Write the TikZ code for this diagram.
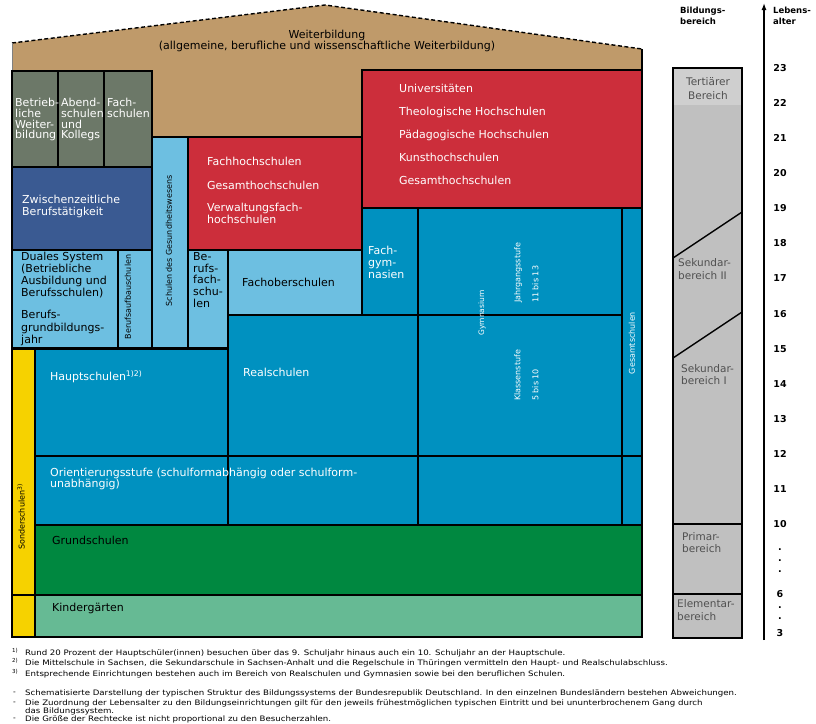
\documentclass[tikz,border=0pt]{standalone}
\usepackage{fontspec}
\setmainfont{DejaVu Sans}
\usetikzlibrary{arrows.meta}

\definecolor{dachbraun}{HTML}{BF9A6A}
\definecolor{salbei}{HTML}{6C7868}
\definecolor{zwblau}{HTML}{3A5A92}
\definecolor{hellblau}{HTML}{6DBFE1}
\definecolor{hsrot}{HTML}{CC2E3B}
\definecolor{mittelblau}{HTML}{0091C0}
\definecolor{sondergelb}{HTML}{F6D200}
\definecolor{grundgruen}{HTML}{008840}
\definecolor{kigagruen}{HTML}{66BA94}
\definecolor{balkengrau}{HTML}{C0C0C0}
\definecolor{balkenhell}{HTML}{CFCFCF}
\definecolor{balkentext}{HTML}{505050}
\newcommand{\fnbreit}[1]{\scalebox{1.15}[1]{#1}}

\begin{document}
\begin{tikzpicture}[x=1pt, y=-1pt, font=\fontsize{11}{11.5}\selectfont]
\tikzstyle{cell}=[draw, line width=1.4pt, anchor=north west, inner sep=0pt, outer sep=0pt]
\tikzstyle{lbl}=[anchor=north west, inner sep=0pt, align=left]
\tikzstyle{wlbl}=[lbl, text=white]
\tikzstyle{vlbl}=[inner sep=0pt, rotate=90, font=\fontsize{8}{9}\selectfont]
\tikzstyle{age}=[inner sep=0pt, font=\bfseries\fontsize{9.5}{10}\selectfont]
\tikzstyle{area}=[lbl, text=balkentext, font=\fontsize{10.5}{12}\selectfont]
\tikzstyle{fn}=[anchor=west, inner sep=0pt, align=left, font=\fontsize{7.5}{8}\selectfont]
\tikzstyle{fnmark}=[fn, font=\fontsize{5.5}{6}\selectfont]
\useasboundingbox (0,0) rectangle (816,723);

% Dach: Weiterbildung
\fill[dachbraun] (12,43) -- (325,5) -- (642,49) -- (642,360) -- (12,360) -- cycle;
\draw[line width=1.4pt, dash pattern=on 4pt off 2.5pt] (12,43) -- (325,5) -- (642,49);
\draw[line width=1.4pt] (642,49) -- (642,71);
\draw[line width=0.6pt, gray] (12,43) -- (12,71);
\node[inner sep=0pt, align=center] (wb) at (327,41) {Weiterbildung\\(allgemeine, berufliche und wissenschaftliche Weiterbildung)};

% Tertiaerbereich und Sekundarbereich II
\node[cell, fill=salbei, minimum width=46pt, minimum height=96pt] (bw) at (12,71) {};
\node[cell, fill=salbei, minimum width=46pt, minimum height=96pt] (abend) at (58,71) {};
\node[cell, fill=salbei, minimum width=48pt, minimum height=96pt] (fs) at (104,71) {};
\node[cell, fill=zwblau, minimum width=140pt, minimum height=83pt] (zb) at (12,167) {};
\node[cell, fill=hellblau, minimum width=106pt, minimum height=98pt] (dual) at (12,250) {};
\node[cell, fill=hellblau, minimum width=34pt, minimum height=98pt] (bas) at (118,250) {};
\node[cell, fill=hellblau, minimum width=36pt, minimum height=211pt] (gesw) at (152,137) {};
\node[cell, fill=hsrot, minimum width=174pt, minimum height=113pt] (fh) at (188,137) {};
\node[cell, fill=hellblau, minimum width=40pt, minimum height=98pt] (bfs) at (188,250) {};
\node[cell, fill=hellblau, minimum width=134pt, minimum height=65pt] (fos) at (228,250) {};
\node[cell, fill=hsrot, minimum width=280pt, minimum height=138pt] (uni) at (362,70) {};
\node[cell, fill=mittelblau, minimum width=56pt, minimum height=107pt] (fg) at (362,208) {};
\node[cell, fill=mittelblau, minimum width=204pt, minimum height=107pt] (gymo) at (418,208) {};
\node[cell, fill=mittelblau, minimum width=20pt, minimum height=248pt] (gesamt) at (622,208) {};

% Sekundarbereich I
\node[cell, fill=mittelblau, minimum width=190pt, minimum height=141pt] (rs) at (228,315) {};
\node[cell, fill=mittelblau, minimum width=204pt, minimum height=141pt] (gymu) at (418,315) {};
\node[cell, fill=mittelblau, minimum width=193pt, minimum height=107pt] (hs) at (35,349) {};
\node[cell, fill=mittelblau, minimum width=193pt, minimum height=69pt] (os1) at (35,456) {};
\node[cell, fill=mittelblau, minimum width=190pt, minimum height=69pt] (os2) at (228,456) {};
\node[cell, fill=mittelblau, minimum width=204pt, minimum height=69pt] (os3) at (418,456) {};
\node[cell, fill=mittelblau, minimum width=20pt, minimum height=69pt] (os4) at (622,456) {};

% Primar- und Elementarbereich
\node[cell, fill=sondergelb, minimum width=23pt, minimum height=246pt] (sond) at (12,349) {};
\node[cell, fill=sondergelb, minimum width=23pt, minimum height=42pt] (sondk) at (12,595) {};
\node[cell, fill=grundgruen, minimum width=607pt, minimum height=70pt] (gr) at (35,525) {};
\node[cell, fill=kigagruen, minimum width=607pt, minimum height=42pt] (kg) at (35,595) {};

% Beschriftungen
\node[wlbl, font=\fontsize{11}{10.8}\selectfont] (bwt) at (15,98) {Betrieb-\\liche\\Weiter-\\bildung};
\node[wlbl, font=\fontsize{11}{10.8}\selectfont] (abendt) at (61,98) {Abend-\\schulen\\und\\Kollegs};
\node[wlbl, font=\fontsize{11}{10.8}\selectfont] (fst) at (107,98) {Fach-\\schulen};
\node[wlbl] (zbt) at (22,195) {Zwischenzeitliche\\Berufstätigkeit};
\node[lbl, font=\fontsize{11}{12}\selectfont] (dualt) at (21,252) {Duales System\\(Betriebliche\\Ausbildung und\\Berufsschulen)};
\node[lbl, font=\fontsize{11}{12.5}\selectfont] (bgjt) at (21,310) {Berufs-\\grundbildungs-\\jahr};
\node[vlbl] (bast) at (128,297) {Berufsaufbauschulen};
\node[vlbl] (geswt) at (169,241) {Schulen des Gesundheitswesens};
\node[wlbl, font=\fontsize{11}{12}\selectfont] (fht) at (207,157) {Fachhochschulen\\[12pt]Gesamthochschulen\\[10pt]Verwaltungsfach-\\hochschulen};
\node[lbl, font=\fontsize{11}{11.8}\selectfont] (bfst) at (193,252) {Be-\\rufs-\\fach-\\schu-\\len};
\node[lbl] (fost) at (242,278) {Fachoberschulen};
\node[wlbl, font=\fontsize{11}{11.5}\selectfont] (unit) at (399,84) {Universitäten\\[11.5pt]Theologische Hochschulen\\[11.5pt]Pädagogische Hochschulen\\[11.5pt]Kunsthochschulen\\[11.5pt]Gesamthochschulen};
\node[wlbl, font=\fontsize{11}{12}\selectfont] (fgt) at (368,246) {Fach-\\gym-\\nasien};
\node[vlbl, text=white, anchor=north west, align=left, font=\fontsize{8}{18}\selectfont] (gymot) at (514,303) {Jahrgangsstufe\\11 bis 13};
\node[vlbl, text=white, font=\fontsize{7.5}{9}\selectfont] (gymt) at (482,313) {Gymnasium};
\node[vlbl, text=white, anchor=north west, align=left, font=\fontsize{8}{18}\selectfont] (gymut) at (514,401) {Klassenstufe\\5 bis 10};
\node[vlbl, text=white] (gesamtt) at (632,343) {Gesamtschulen};
\node[wlbl] (hst) at (50,370) {Hauptschulen\textsuperscript{1)2)}};
\node[wlbl] (rst) at (243,368) {Realschulen};
\node[wlbl, font=\fontsize{11}{11}\selectfont] (ost) at (50,468) {Orientierungsstufe (schulformabhängig oder schulform-\\unabhängig)};
\node[vlbl] (sondt) at (21,517) {Sonderschulen\textsuperscript{3)}};
\node[lbl] (grt) at (52,536) {Grundschulen};
\node[lbl] (kgt) at (52,603) {Kindergärten};

% Bildungsbereiche und Lebensalter
\node[lbl, font=\bfseries\fontsize{8.5}{11}\selectfont] (bb) at (680,7) {Bildungs-\\bereich};
\node[lbl, font=\bfseries\fontsize{8.5}{11}\selectfont] (la) at (773,7) {Lebens-\\alter};
\node[cell, fill=balkengrau, minimum width=69pt, minimum height=456pt] (sekbar) at (673,68) {};
\fill[balkenhell] (673.7,68.7) rectangle (741.3,105);
\node[cell, fill=balkengrau, minimum width=69pt, minimum height=70pt] (prim) at (673,524) {};
\node[cell, fill=balkengrau, minimum width=69pt, minimum height=44pt] (elem) at (673,594) {};
\draw[line width=1.4pt] (673,258) -- (742,212);
\draw[line width=1.4pt] (673,358) -- (742,312);
\node[area, anchor=center, align=center, font=\fontsize{10.5}{14}\selectfont] (tertt) at (708,89) {Tertiärer\\Bereich};
\node[area, font=\fontsize{10.5}{13}\selectfont] (sek2t) at (678,258) {Sekundar-\\bereich II};
\node[area] (sek1t) at (681,364) {Sekundar-\\bereich I};
\node[area] (primt) at (682,532) {Primar-\\bereich};
\node[area, font=\fontsize{10.5}{13}\selectfont] (elemt) at (677,599) {Elementar-\\bereich};

\coordinate (axbot) at (764,640);
\coordinate (axtop) at (764,3);
\draw[line width=1.3pt, -{Latex[length=7pt,width=5pt]}] (axbot) -- (axtop);
\foreach \a in {10,...,23}
  \node[age] (age\a) at (780,{68+35.08*(23-\a)}) {\a};
\node[age] (age6) at (780,594) {6};
\node[age] (age3) at (780,633) {3};
\foreach \yy [count=\i] in {550,561,572,608,619}
  \node[age] (dot\i) at (780,\yy) {.};

% Fussnoten
\node[fnmark] (fm1) at (12,651) {1)};
\node[fn] (fn1) at (25,653) {\fnbreit{Rund 20 Prozent der Hauptschüler(innen) besuchen über das 9. Schuljahr hinaus auch ein 10. Schuljahr an der Hauptschule.}};
\node[fnmark] (fm2) at (12,661) {2)};
\node[fn] (fn2) at (25,663) {\fnbreit{Die Mittelschule in Sachsen, die Sekundarschule in Sachsen-Anhalt und die Regelschule in Thüringen vermitteln den Haupt- und Realschulabschluss.}};
\node[fnmark] (fm3) at (12,672) {3)};
\node[fn] (fn3) at (25,674) {\fnbreit{Entsprechende Einrichtungen bestehen auch im Bereich von Realschulen und Gymnasien sowie bei den beruflichen Schulen.}};
\node[fn] (bl1) at (13,693) {-};
\node[fn] (fn4) at (25,693) {\fnbreit{Schematisierte Darstellung der typischen Struktur des Bildungssystems der Bundesrepublik Deutschland. In den einzelnen Bundesländern bestehen Abweichungen.}};
\node[fn] (bl2) at (13,703) {-};
\node[fn] (fn5) at (25,703) {\fnbreit{Die Zuordnung der Lebensalter zu den Bildungseinrichtungen gilt für den jeweils frühestmöglichen typischen Eintritt und bei ununterbrochenem Gang durch}};
\node[fn] (fn5b) at (25,711) {\fnbreit{das Bildungssystem.}};
\node[fn] (bl3) at (13,719) {-};
\node[fn] (fn6) at (25,719) {\fnbreit{Die Größe der Rechtecke ist nicht proportional zu den Besucherzahlen.}};
\end{tikzpicture}
\end{document}
